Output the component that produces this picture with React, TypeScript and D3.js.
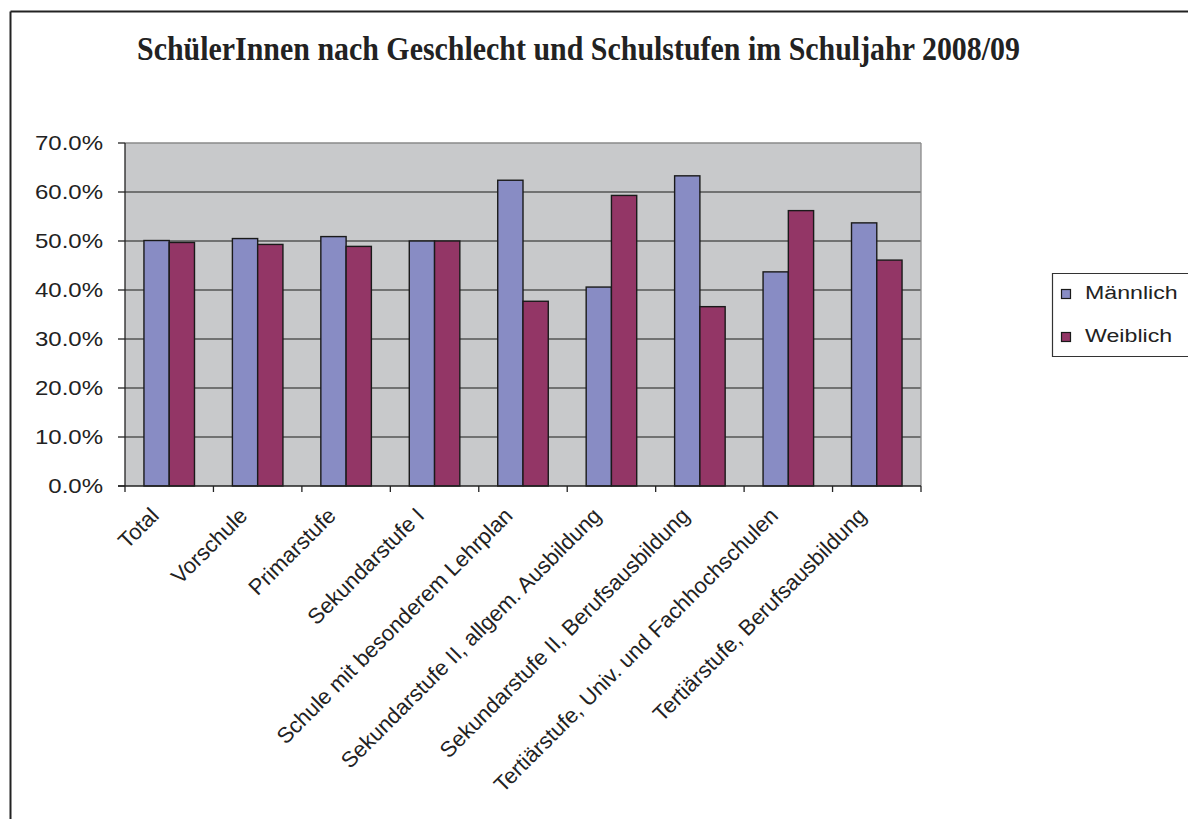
import React from "react";
import * as d3 from "d3";

const categories = [
  "Total",
  "Vorschule",
  "Primarstufe",
  "Sekundarstufe I",
  "Schule mit besonderem Lehrplan",
  "Sekundarstufe II, allgem. Ausbildung",
  "Sekundarstufe II, Berufsausbildung",
  "Tertiärstufe, Univ. und Fachhochschulen",
  "Tertiärstufe, Berufsausbildung",
];
const maennlich = [50.1, 50.5, 50.9, 50.0, 62.4, 40.6, 63.3, 43.7, 53.7];
const weiblich = [49.7, 49.3, 48.9, 50.0, 37.7, 59.3, 36.6, 56.2, 46.1];
const seriesNames = ["Männlich", "Weiblich"];
const yTicks = [0, 10, 20, 30, 40, 50, 60, 70];
const title = "SchülerInnen nach Geschlecht und Schulstufen im Schuljahr 2008/09";

const colors = ["#888CC4", "#933666"];

export default function App() {
  const W = 1188, H = 819;
  const left = 125, right = 921, top = 143, bottom = 486;
  const x = d3.scaleBand<string>().domain(categories).range([left, right]).paddingInner(0).paddingOuter(0);
  const bw = x.bandwidth();
  const barW = bw / 3.5;
  const xs = d3.scaleBand<string>().domain(seriesNames).range([0, barW * 2]);
  const y = d3.scaleLinear().domain([0, 70]).range([bottom, top]);
  const series = [maennlich, weiblich];
  const sans = "'Liberation Sans', Arial, sans-serif";
  const bounds = categories.map((_, i) => left + i * bw).concat([right]);

  return (
    <svg width={W} height={H} style={{ position: "absolute", left: 0, top: 0, background: "#fff", overflow: "hidden", display: "block" }}>
      <line x1={10.5} x2={W + 5} y1={11.5} y2={11.5} stroke="#222" strokeWidth={2} />
      <line x1={10.5} x2={10.5} y1={11.5} y2={H + 5} stroke="#222" strokeWidth={2} />
      <text
        x={137}
        y={60}
        fontFamily="'Liberation Serif', 'Times New Roman', serif"
        fontWeight="bold"
        fontSize={33}
        textLength={883}
        lengthAdjust="spacingAndGlyphs"
        fill="#222"
      >
        {title}
      </text>
      <rect x={left} y={top} width={right - left} height={bottom - top} fill="#C8C9CB" />
      {yTicks.slice(1).map((t) => (
        <line key={t} x1={left} x2={right} y1={y(t)} y2={y(t)} stroke={t === 70 ? "#8a8a8a" : "#555"} strokeWidth={1.3} />
      ))}
      <line x1={right} x2={right} y1={top} y2={bottom} stroke="#8a8a8a" strokeWidth={1.3} />
      {categories.map((c, i) =>
        series.map((s, j) => (
          <rect
            key={c + j}
            x={(x(c) as number) + (bw - barW * 2) / 2 + (xs(seriesNames[j]) as number)}
            y={y(s[i])}
            width={barW}
            height={bottom - y(s[i])}
            fill={colors[j]}
            stroke="#1a1a1a"
            strokeWidth={1.4}
          />
        ))
      )}
      <line x1={left} x2={left} y1={top} y2={bottom} stroke="#222" strokeWidth={1.3} />
      <line x1={left - 7} x2={right} y1={bottom} y2={bottom} stroke="#222" strokeWidth={1.3} />
      {yTicks.map((t) => (
        <g key={t}>
          <line x1={left - 7} x2={left} y1={y(t)} y2={y(t)} stroke="#222" strokeWidth={1.3} />
          <text
            transform={`translate(103,${y(t) + 7}) scale(1.2,1)`}
            textAnchor="end"
            fontFamily={sans}
            fontSize={20}
            fill="#222"
          >
            {d3.format(".1f")(t) + "%"}
          </text>
        </g>
      ))}
      {bounds.map((b, i) => (
        <line key={i} x1={b} x2={b} y1={bottom} y2={bottom + 6} stroke="#222" strokeWidth={1.3} />
      ))}
      {categories.map((c) => {
        const cx = (x(c) as number) + bw / 2 - 9;
        const cy = bottom + 31;
        return (
          <text
            key={c}
            transform={`translate(${cx},${cy}) rotate(-45)`}
            textAnchor="end"
            fontFamily={sans}
            fontSize={22}
            fill="#222"
          >
            {c}
          </text>
        );
      })}
      <path d={`M${W + 5},273.5 H1052.5 V356.5 H${W + 5}`} fill="#fff" stroke="#333" strokeWidth={1.2} />
      {seriesNames.map((n, j) => (
        <g key={n}>
          <rect x={1061.5} y={289.5 + j * 43} width={9} height={9} fill={colors[j]} stroke="#1a1a1a" strokeWidth={1.2} />
          <text
            transform={`translate(1085,${299 + j * 43}) scale(1.22,1)`}
            fontFamily={sans}
            fontSize={19}
            fill="#222"
          >
            {n}
          </text>
        </g>
      ))}
    </svg>
  );
}
